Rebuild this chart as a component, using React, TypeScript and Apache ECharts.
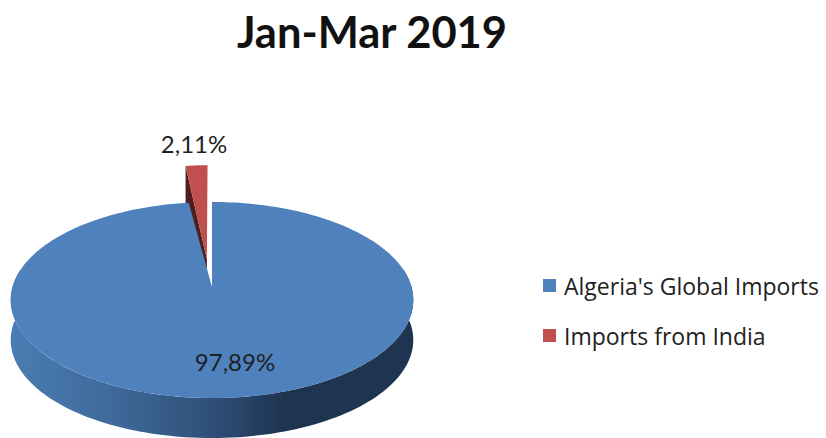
import React, { useEffect, useRef } from "react";
import * as echarts from "echarts";

const titleText = "Jan-Mar 2019";
const sliceNames = ["Algeria's Global Imports", "Imports from India"];
const sliceValues = [97.89, 2.11];
const sliceColors = ["#4f81bd", "#c0504d"];

const FONT = "Lato, 'Open Sans', sans-serif";
const total = sliceValues.reduce((a, b) => a + b, 0);
const redStart = (sliceValues[0] / total) * Math.PI * 2;

// Perspective of the tilted disc
const CX = 212, CY = 287, RX = 199.5, AY = 96.3, K = -0.1327, DEPTH = 40;
const project = (u: number, v: number): number[] => {
  const w = 1 + K * v;
  return [CX + (RX * u) / w, CY + (AY * v) / w];
};
const arc = (from: number, to: number, steps: number, stretch = 1, eu = 0, ev = 0) => {
  const pts: number[][] = [];
  for (let i = 0; i <= steps; i++) {
    const t = from + ((to - from) * i) / steps;
    pts.push(project(eu + Math.sin(t), ev - stretch * Math.cos(t)));
  }
  return pts;
};

const fmt = (v: number) => v.toFixed(2).replace(".", ",") + "%";
const labelStyle = (text: string) => ({
  text,
  fill: "#1f1f1f",
  font: `24px ${FONT}`,
  align: "center",
  verticalAlign: "middle",
});

const renderBlue = (_: any, api: any) => {
  const value = api.value(0);
  const end = (value / total) * Math.PI * 2;
  const rim = arc(0, end, 240);
  const low = arc(Math.PI * 0.44, Math.PI * 1.56, 120);
  const wall = [...low, ...low.slice().reverse().map((p) => [p[0], p[1] + DEPTH])];
  return {
    type: "group",
    children: [
      {
        type: "polygon",
        shape: { points: wall },
        style: {
          fill: new echarts.graphic.LinearGradient(0, 0, 1, 0, [
            { offset: 0, color: "#4a7cb3" },
            { offset: 0.25, color: "#3f6a9a" },
            { offset: 0.5, color: "#2f4f78" },
            { offset: 0.68, color: "#1f3450" },
            { offset: 1, color: "#1f3450" },
          ]),
        },
      },
      {
        type: "polygon",
        shape: { points: [project(0, 0), ...rim] },
        style: { fill: sliceColors[0] },
      },
      { type: "text", x: 235, y: 361.5, style: labelStyle(fmt(value)) },
    ],
  };
};

const renderRed = (_: any, api: any) => {
  const value = api.value(0);
  const mid = redStart + ((value / total) * Math.PI * 2) / 2;
  const e = 0.3;
  const eu = 1.35 * e * Math.sin(mid);
  const ev = -e * Math.cos(mid);
  const stretch = 1.22;
  const rim = arc(redStart, Math.PI * 2, 12, stretch, eu, ev);
  const apex = project(eu, ev);
  const edge = rim[0];
  return {
    type: "group",
    children: [
      {
        type: "polygon",
        shape: {
          points: [apex, edge, [edge[0], edge[1] + DEPTH], [apex[0], apex[1] + DEPTH]],
        },
        style: { fill: "#4d1f1e" },
      },
      {
        type: "polygon",
        shape: { points: [apex, ...rim] },
        style: { fill: sliceColors[1] },
      },
      { type: "text", x: 194, y: 143.5, style: labelStyle(fmt(value)) },
    ],
  };
};

export default function App() {
  const ref = useRef<HTMLDivElement>(null);
  useEffect(() => {
    document.body.style.margin = "0";
    const chart = echarts.init(ref.current!, undefined, { renderer: "svg" });
    chart.setOption({
      animation: false,
      backgroundColor: "#ffffff",
      title: {
        text: titleText,
        left: 367,
        top: 4,
        textAlign: "center",
        textStyle: { fontFamily: FONT, fontWeight: "bold", fontSize: 43.5, color: "#111111" },
      },
      legend: {
        orient: "vertical",
        left: 538,
        top: 269,
        itemWidth: 13,
        itemHeight: 13,
        itemGap: 27,
        icon: "rect",
        data: sliceNames,
        textStyle: { fontFamily: "'Open Sans', sans-serif", fontSize: 23, color: "#222222", padding: [0, 0, 0, 3] },
      },
      series: [
        {
          type: "custom",
          name: sliceNames[1],
          coordinateSystem: "none",
          itemStyle: { color: sliceColors[1] },
          data: [[sliceValues[1]]],
          renderItem: renderRed,
          z: 2,
        },
        {
          type: "custom",
          name: sliceNames[0],
          coordinateSystem: "none",
          itemStyle: { color: sliceColors[0] },
          data: [[sliceValues[0]]],
          renderItem: renderBlue,
          z: 3,
        },
      ],
    });
    return () => chart.dispose();
  }, []);
  return <div ref={ref} style={{ width: 826, height: 438 }} />;
}
